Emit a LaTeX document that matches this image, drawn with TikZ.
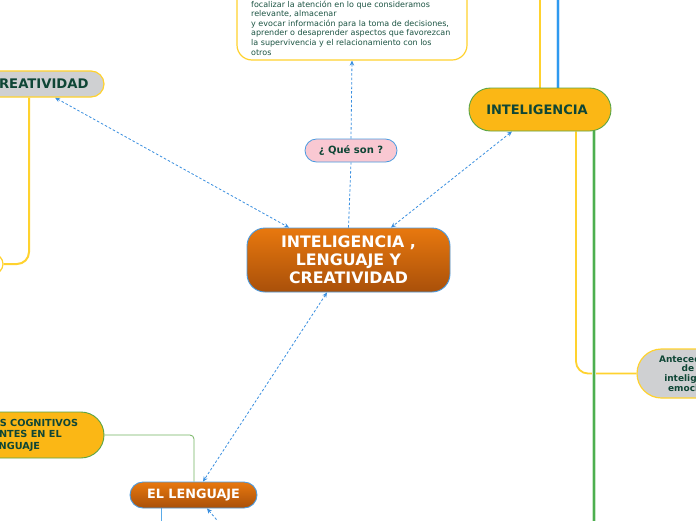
\documentclass[tikz,border=0pt]{standalone}
\usepackage{fontspec}
\setmainfont{DejaVu Sans}
\usetikzlibrary{arrows.meta,backgrounds}
\definecolor{txtgreen}{HTML}{0F4636}
\definecolor{infogreen}{HTML}{1C5443}
\definecolor{ylw}{HTML}{FFD22E}
\definecolor{conn}{HTML}{3A8FE0}
\definecolor{orgtop}{HTML}{E8780E}
\definecolor{orgbot}{HTML}{A9500A}
\definecolor{amber}{HTML}{FBB715}
\definecolor{grn}{HTML}{5BA545}
\definecolor{thingrn}{HTML}{74B562}
\definecolor{grayfill}{HTML}{CFD0D2}
\definecolor{pinkfill}{HTML}{F9C8D2}
\definecolor{bordblue}{HTML}{4A9BE0}
\definecolor{linegreen}{HTML}{4CAF50}
\definecolor{halogreen}{HTML}{C9E7C6}
\definecolor{lineblue}{HTML}{2E9AF0}
\definecolor{thinblue}{HTML}{5AABE8}
\definecolor{haloblue}{HTML}{CFE6FA}
\begin{document}
\begin{tikzpicture}[x=1pt,y=-1pt,
  >={Stealth[length=5pt,width=4.5pt]},
  base/.style={inner sep=0pt, align=center, text=txtgreen},
  orangebox/.style={base, draw=bordblue, line width=0.9pt, top color=orgtop, bottom color=orgbot, text=white},
  amberbox/.style={base, draw=grn, line width=0.9pt, fill=amber},
  graybox/.style={base, draw=ylw, line width=1.2pt, fill=grayfill},
  pinkbox/.style={base, draw=bordblue, line width=0.8pt, fill=pinkfill},
  plainbox/.style={draw=ylw, line width=1.2pt, fill=white, inner sep=0pt},
  dashconn/.style={conn, line width=0.8pt, dash pattern=on 2.5pt off 2pt}
]
\useasboundingbox (0,0) rectangle (696,520);
\clip (0,0) rectangle (696,520);

% nodes
\node[orangebox, minimum width=203pt, minimum height=64pt, rounded corners=18pt,
      font=\bfseries\fontsize{15.8}{18}\selectfont] (main) at (348.5,260)
      {INTELIGENCIA ,\\LENGUAJE Y\\CREATIVIDAD};
\node[pinkbox, minimum width=92pt, minimum height=23pt, rounded corners=11.5pt,
      font=\bfseries\fontsize{10}{12}\selectfont] (que) at (351,150.5) {¿ Qué son ?};
\node[plainbox, minimum width=230pt, minimum height=100pt, rounded corners=15pt] (info) at (352,10) {};
\node[base, text=infogreen, anchor=north west, align=left, font=\fontsize{8}{9.6}\selectfont] (infotext) at (251,0.5)
      {focalizar la atención en lo que consideramos\\relevante, almacenar\\y evocar información para la toma de decisiones,\\aprender o desaprender aspectos que favorezcan\\la supervivencia y el relacionamiento con los\\otros};
\node[graybox, minimum width=128pt, minimum height=26pt, rounded corners=13pt,
      font=\bfseries\fontsize{13.2}{15}\selectfont] (creat) at (40,84) {CREATIVIDAD\hspace*{2pt}};
\node[amberbox, minimum width=142pt, minimum height=43pt, rounded corners=21.5pt,
      font=\bfseries\fontsize{13}{15}\selectfont] (intel) at (540,109.5) {INTELIGENCIA\hspace*{6pt}};
\node[graybox, minimum width=114pt, minimum height=49pt, rounded corners=24.5pt,
      font=\bfseries\fontsize{9}{9.8}\selectfont] (ante) at (694,373.5)
      {Antecedentes\\de la\\inteligencia\\emocional};
\node[plainbox, minimum width=86pt, minimum height=20pt, rounded corners=10pt] (leftn) at (-40,264) {};
\node[amberbox, minimum width=182pt, minimum height=46pt, rounded corners=23pt,
      font=\bfseries\fontsize{9.7}{11.5}\selectfont] (proc) at (13,435)
      {PROCESOS COGNITIVOS\\PRESENTES EN EL\\LENGUAJE};
\node[orangebox, minimum width=127pt, minimum height=26pt, rounded corners=13pt,
      font=\bfseries\fontsize{12.8}{14}\selectfont] (leng) at (193.5,495) {EL LENGUAJE};

\coordinate (lengdown) at (222,526);
\coordinate (lengdown2) at (161,526);
\coordinate (gbot) at (594,526);
\coordinate (ytop) at (540,-6);
\coordinate (btop) at (558,-6);

\begin{scope}[on background layer]
\fill[white] (0,0) rectangle (696,520);
\draw[dashconn,<->] ([xshift=15pt]creat.south) -- ([xshift=-59.5pt]main.north);
\draw[dashconn,<->] ([xshift=-28pt]intel.south) -- ([xshift=42.5pt]main.north);
\draw[dashconn] (main.north) -- (que.south);
\draw[dashconn,->] (que.north) -- (info.south);
\draw[dashconn,<->] ([xshift=-21.5pt]main.south) -- ([xshift=9.5pt]leng.north);
\draw[dashconn,<-] ([xshift=13.5pt]leng.south) -- (lengdown);
\draw[thinblue, line width=0.8pt] ([xshift=-32.5pt]leng.south) -- (lengdown2);
\draw[thingrn, line width=0.8pt, rounded corners=4pt] (proc.east) -| ([xshift=0.5pt]leng.north);
\draw[ylw, line width=2pt, rounded corners=12pt] ([xshift=-11pt]creat.south) |- (leftn.east);
\draw[ylw, line width=1.8pt, rounded corners=12pt] ([xshift=36pt]intel.south) |- (ante.west);
\draw[halogreen, line width=4.5pt] ([xshift=54pt]intel.south) -- (gbot);
\draw[linegreen, line width=2.5pt] ([xshift=54pt]intel.south) -- (gbot);
\draw[ylw, line width=2pt] (intel.north) -- (ytop);
\draw[haloblue, line width=4.5pt] ([xshift=18pt]intel.north) -- (btop);
\draw[lineblue, line width=2.5pt] ([xshift=18pt]intel.north) -- (btop);
\end{scope}
\end{tikzpicture}
\end{document}
